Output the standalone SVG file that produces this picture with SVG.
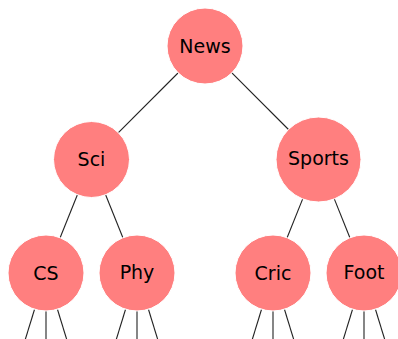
<svg xmlns="http://www.w3.org/2000/svg" width="398" height="339" viewBox="0 0 398 339">
<style>
.n circle{fill:#ff7f7f;stroke:#fff;stroke-width:1}
.n text{font-family:"DejaVu Sans",sans-serif;font-size:19px;fill:#000;text-anchor:middle}
#edges line{stroke:#222;stroke-width:1.1}
</style>
<rect width="398" height="339" fill="#fff"/>
<g id="edges">
<line x1="178" y1="73" x2="118.4" y2="132.6"/>
<line x1="231.9" y1="72.9" x2="288.5" y2="129.5"/>
<line x1="77.4" y1="194.8" x2="60.1" y2="237.7"/>
<line x1="105.6" y1="194.8" x2="122.9" y2="237.7"/>
<line x1="302.7" y1="198.9" x2="287.1" y2="237.7"/>
<line x1="334.3" y1="198.9" x2="349.9" y2="237.7"/>
<line x1="34.5" y1="309.5" x2="24.5" y2="342"/>
<line x1="46" y1="311" x2="46" y2="342"/>
<line x1="57.5" y1="309.5" x2="67.5" y2="342"/>
<line x1="125.5" y1="309.5" x2="115.5" y2="342"/>
<line x1="137" y1="311" x2="137" y2="342"/>
<line x1="148.5" y1="309.5" x2="158.5" y2="342"/>
<line x1="261.5" y1="309.5" x2="251.5" y2="342"/>
<line x1="273" y1="311" x2="273" y2="342"/>
<line x1="284.5" y1="309.5" x2="294.5" y2="342"/>
<line x1="352.5" y1="309.5" x2="342.5" y2="342"/>
<line x1="364" y1="311" x2="364" y2="342"/>
<line x1="375.5" y1="309.5" x2="385.5" y2="342"/>
</g>
<g id="news" class="n"><circle cx="205" cy="46" r="38"/><text x="205" y="53">News</text></g>
<g id="sci" class="n"><circle cx="91.5" cy="159.5" r="38"/><text x="91.5" y="166">Sci</text></g>
<g id="sports" class="n"><circle cx="318.5" cy="159.5" r="42.5"/><text x="318.5" y="165">Sports</text></g>
<g id="cs" class="n"><circle cx="46" cy="273" r="38"/><text x="46" y="280">CS</text></g>
<g id="phy" class="n"><circle cx="137" cy="273" r="38"/><text x="137" y="279">Phy</text></g>
<g id="cric" class="n"><circle cx="273" cy="273" r="38"/><text x="273" y="280">Cric</text></g>
<g id="foot" class="n"><circle cx="364" cy="273" r="38"/><text x="364" y="279">Foot</text></g>
</svg>
